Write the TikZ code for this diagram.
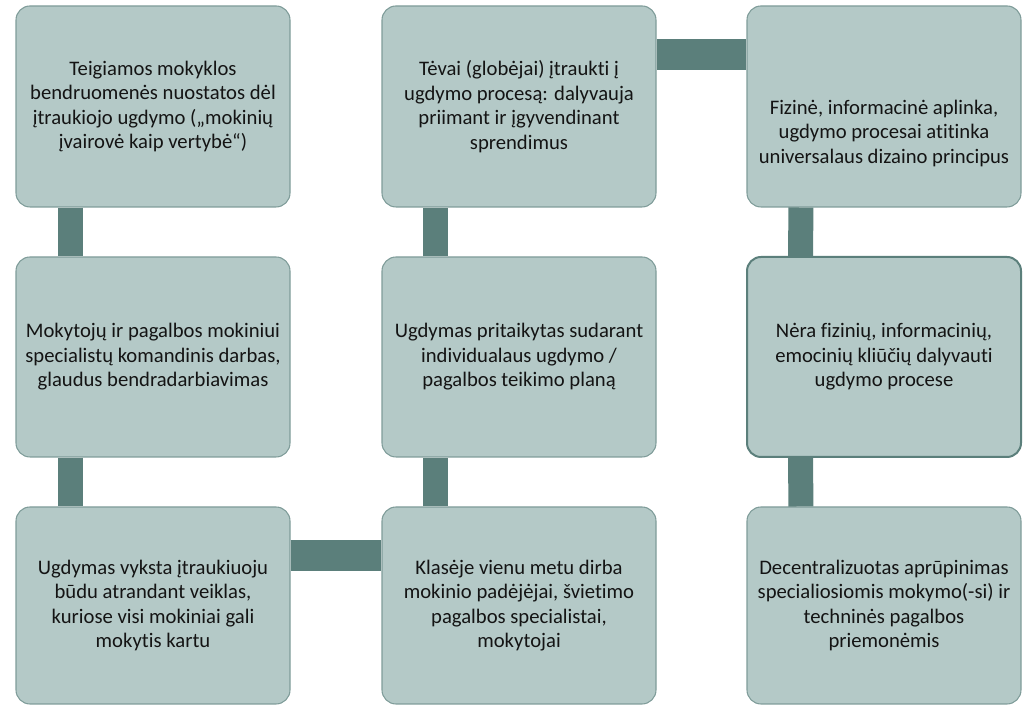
\documentclass[tikz,border=0pt]{standalone}
\usepackage{fontspec}
\setmainfont{Carlito}[Ligatures=NoCommon]
\usepackage{xcolor}
\usepackage{tikz}
\usetikzlibrary{calc}
\definecolor{cellFill}{HTML}{B4C9C7}
\definecolor{cellLine}{HTML}{7F9C99}
\definecolor{barTeal}{HTML}{5B7F7B}
\definecolor{txtDark}{HTML}{141414}

\begin{document}
\begin{tikzpicture}[x=0.75pt,y=0.75pt,
  cell/.style={draw=cellLine, line width=0.8pt, fill=cellFill, rounded corners=10.5pt,
    minimum width=205.5pt, inner sep=0pt, align=center, text=txtDark,
    font=\fontsize{15.5}{18.4}\selectfont},
  vbar/.style={barTeal, line width=18.75pt},
  hbar/.style={barTeal, line width=23.25pt}]
\useasboundingbox (0,0) rectangle (1033,705);
% top row
\node[cell, minimum height=150.75pt] (nuostatos) at (153,598.5)
  {Teigiamos mokyklos\\ bendruomenės nuostatos dėl\\ įtraukiojo ugdymo („mokinių\\ įvairovė kaip vertybė“)};
\node[cell, minimum height=150.75pt] (tevai) at (519,598.5)
  {Tėvai (globėjai) įtraukti į\\ ugdymo procesą: dalyvauja\\ priimant ir įgyvendinant\\ sprendimus};
\node[cell, minimum height=150.75pt] (aplinka) at (884,598.5) {};
\node[align=center, text=txtDark, font=\fontsize{15.5}{18.4}\selectfont] (aplinkaTxt)
  at ($(aplinka.center)+(0,-27)$)
  {Fizinė, informacinė aplinka,\\ ugdymo procesai atitinka\\ universalaus dizaino principus};
% middle row
\node[cell, minimum height=150pt] (komanda) at (153,348)
  {Mokytojų ir pagalbos mokiniui\\ specialistų komandinis darbas,\\ glaudus bendradarbiavimas};
\node[cell, minimum height=150pt] (planas) at (519,348)
  {Ugdymas pritaikytas sudarant\\ individualaus ugdymo /\\ pagalbos teikimo planą};
\node[cell, minimum height=150pt, draw=barTeal, line width=1.5pt] (kliutys) at (884,348)
  {Nėra fizinių, informacinių,\\ emocinių kliūčių dalyvauti\\ ugdymo procese};
% bottom row
\node[cell, minimum height=147.75pt] (veiklos) at (153,99.5)
  {Ugdymas vyksta įtraukiuoju\\ būdu atrandant veiklas,\\ kuriose visi mokiniai gali\\ mokytis kartu};
\node[cell, minimum height=147.75pt] (klase) at (519,99.5)
  {Klasėje vienu metu dirba\\ mokinio padėjėjai, švietimo\\ pagalbos specialistai,\\ mokytojai};
\node[cell, minimum height=147.75pt] (priemones) at (884,99.5)
  {Decentralizuotas aprūpinimas\\ specialiosiomis mokymo(-si) ir\\ techninės pagalbos\\ priemonėmis};
% connectors
\draw[vbar] ($(nuostatos.south west)+(55.5,0)$) -- ($(komanda.north west)+(55.5,0)$);
\draw[vbar] ($(komanda.south west)+(55.5,0)$) -- ($(veiklos.north west)+(55.5,0)$);
\draw[hbar] ($(veiklos.north east)+(0,-49)$) -- ($(klase.north west)+(0,-49)$);
\draw[vbar] ($(klase.north west)+(54,0)$) -- ($(planas.south west)+(54,0)$);
\draw[vbar] ($(planas.north west)+(54,0)$) -- ($(tevai.south west)+(54,0)$);
\draw[hbar] ($(tevai.north east)+(0,-49)$) -- ($(aplinka.north west)+(0,-49)$);
\draw[vbar] ($(aplinka.south west)+(54.5,0)$) -- ($(kliutys.north west)+(54.5,0)$);
\draw[vbar] ($(kliutys.south west)+(54.5,0)$) -- ($(priemones.north west)+(54.5,0)$);
\end{tikzpicture}
\end{document}
